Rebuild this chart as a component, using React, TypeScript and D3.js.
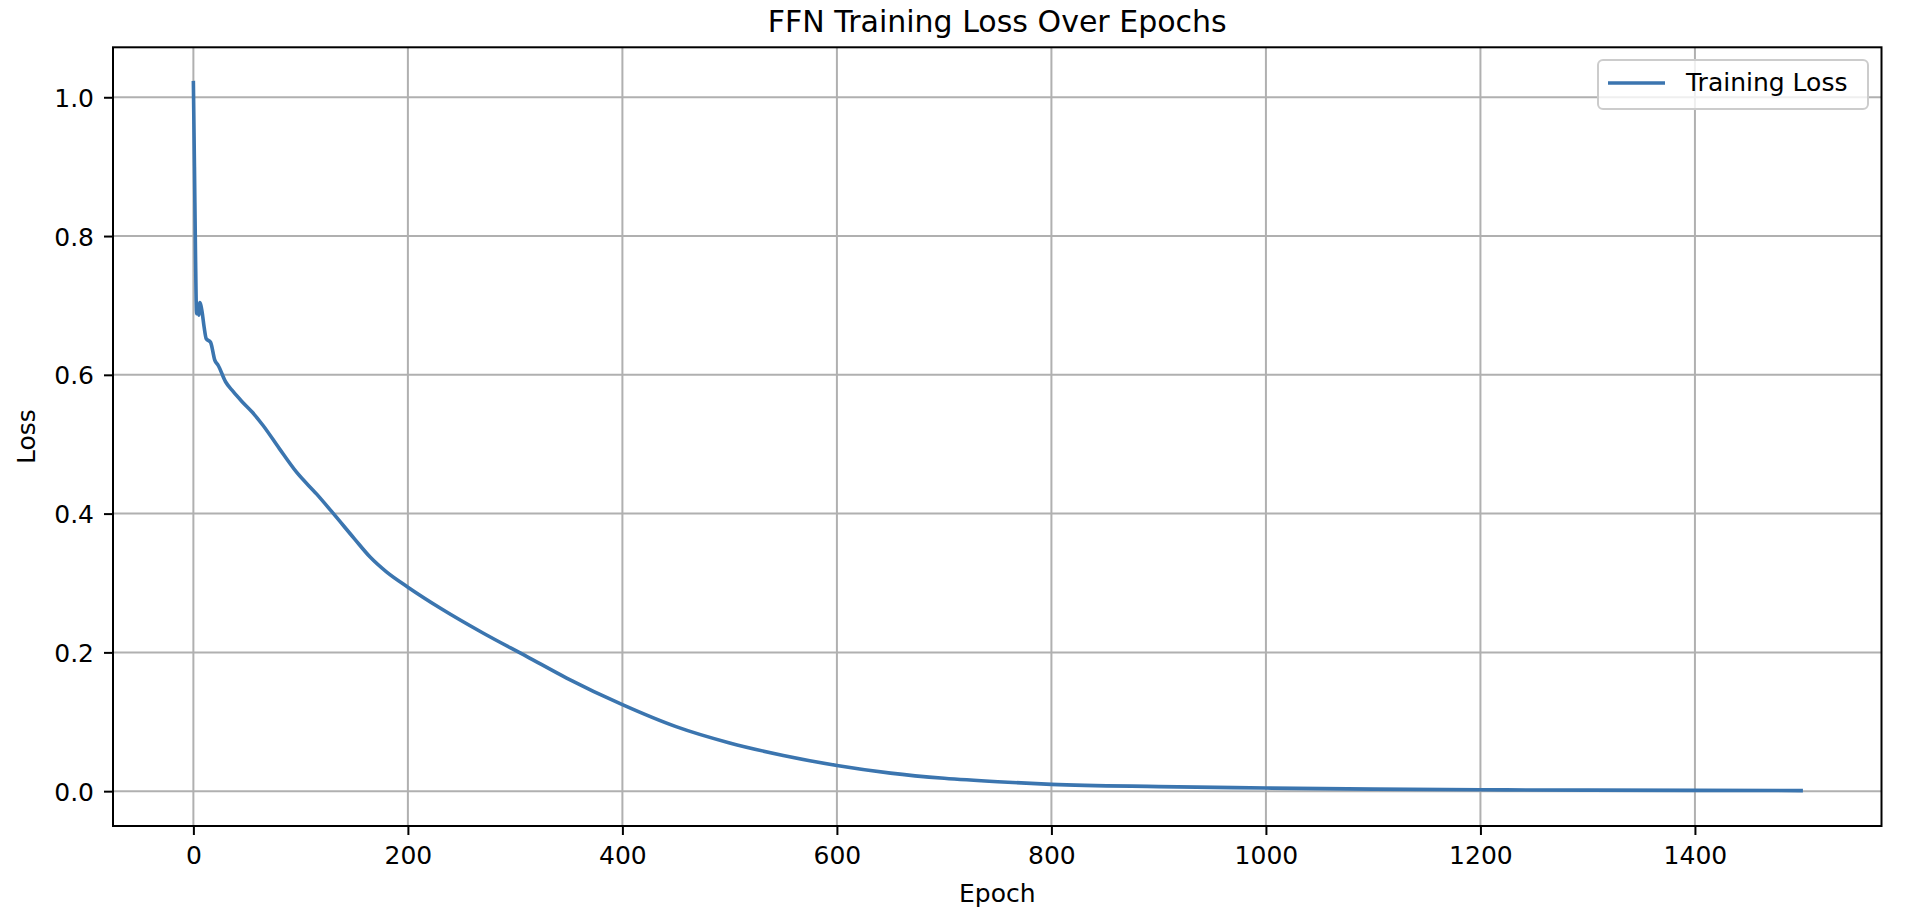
import { useEffect, useRef } from "react";
import * as d3 from "d3";

const EPOCHS = [0, 1, 2, 3, 4, 5, 6, 7, 8, 10, 12, 16, 20, 23, 30, 37, 45, 55, 65, 80, 96, 115, 130, 150, 165, 180, 200, 230, 270, 311, 348, 400, 450, 500, 550, 600, 650, 700, 750, 800, 900, 1000, 1100, 1200, 1300, 1400, 1499];
const LOSS = [1.021, 0.9, 0.77, 0.688, 0.7, 0.686, 0.704, 0.7, 0.692, 0.669, 0.652, 0.647, 0.621, 0.614, 0.59, 0.576, 0.562, 0.546, 0.527, 0.494, 0.46, 0.428, 0.401, 0.364, 0.337, 0.316, 0.294, 0.264, 0.228, 0.194, 0.163, 0.1247, 0.093, 0.0695, 0.0515, 0.037, 0.026, 0.0185, 0.0135, 0.0098, 0.0066, 0.0045, 0.003, 0.002, 0.0015, 0.0011, 0.0008];
const X_TICKS = [0, 200, 400, 600, 800, 1000, 1200, 1400];
const Y_TICKS = [0, 0.2, 0.4, 0.6, 0.8, 1.0];

const TITLE = "FFN Training Loss Over Epochs";
const SERIES_NAME = "Training Loss";
const LINE_COLOR = "#3b75af";
const FONT = "DejaVu Sans, sans-serif";

export default function App() {
  const svgRef = useRef<SVGSVGElement>(null);

  useEffect(() => {
    const W = 1906, H = 916;
    const mg = { l: 113, r: 1881.5, t: 47.3, b: 826 };

    const svg = d3.select(svgRef.current).attr("width", W).attr("height", H);
    svg.selectAll("*").remove();

    // matplotlib-style 5% margins around the data extent
    const pad = (ext: [number, number]) => { const d = (ext[1] - ext[0]) * 0.05; return [ext[0] - d, ext[1] + d]; };
    const xS = d3.scaleLinear().domain(pad(d3.extent(EPOCHS) as [number, number])).range([mg.l, mg.r]);
    const yS = d3.scaleLinear().domain(pad(d3.extent(LOSS) as [number, number])).range([mg.b, mg.t]);

    svg.append("rect").attr("width", W).attr("height", H).attr("fill", "white");

    // grid
    X_TICKS.forEach(v => svg.append("line").attr("x1", xS(v)).attr("x2", xS(v)).attr("y1", mg.t).attr("y2", mg.b).attr("stroke", "#b0b0b0").attr("stroke-width", 2));
    Y_TICKS.forEach(v => svg.append("line").attr("x1", mg.l).attr("x2", mg.r).attr("y1", yS(v)).attr("y2", yS(v)).attr("stroke", "#b0b0b0").attr("stroke-width", 2));

    // line
    const line = d3.line<number>().x((_, i) => xS(EPOCHS[i])).y(d => yS(d)).curve(d3.curveMonotoneX);
    svg.append("path").attr("d", line(LOSS)).attr("fill", "none").attr("stroke", LINE_COLOR).attr("stroke-width", 3.6).attr("stroke-linejoin", "round").attr("stroke-linecap", "square");

    // axes
    svg.append("g").attr("transform", `translate(0,${mg.b})`)
      .call(d3.axisBottom(xS).tickValues(X_TICKS).tickSize(9).tickPadding(11).tickFormat(d3.format("d")))
      .call(g => { g.select(".domain").remove(); g.selectAll("line").attr("stroke", "#000").attr("stroke-width", 2); g.selectAll("text").attr("fill", "#000").attr("font-size", 25).attr("font-family", FONT); });
    svg.append("g").attr("transform", `translate(${mg.l},0)`)
      .call(d3.axisLeft(yS).tickValues(Y_TICKS).tickSize(9).tickPadding(10).tickFormat(d3.format(".1f")))
      .call(g => { g.select(".domain").remove(); g.selectAll("line").attr("stroke", "#000").attr("stroke-width", 2); g.selectAll("text").attr("fill", "#000").attr("font-size", 25).attr("font-family", FONT).attr("dy", "0.36em"); });

    // spines
    svg.append("rect").attr("x", mg.l).attr("y", mg.t).attr("width", mg.r - mg.l).attr("height", mg.b - mg.t)
      .attr("fill", "none").attr("stroke", "#000").attr("stroke-width", 2);

    // labels
    const cx = (mg.l + mg.r) / 2, cy = (mg.t + mg.b) / 2;
    svg.append("text").attr("x", cx).attr("y", 32).attr("text-anchor", "middle").attr("font-size", 30).attr("font-family", FONT).attr("fill", "#000").text(TITLE);
    svg.append("text").attr("x", cx).attr("y", 902).attr("text-anchor", "middle").attr("font-size", 25).attr("font-family", FONT).attr("fill", "#000").text("Epoch");
    svg.append("text").attr("transform", `translate(35,${cy}) rotate(-90)`).attr("text-anchor", "middle").attr("font-size", 25).attr("font-family", FONT).attr("fill", "#000").text("Loss");

    // legend
    const lg = svg.append("g");
    lg.append("rect").attr("x", 1598).attr("y", 60).attr("width", 270).attr("height", 49).attr("rx", 5)
      .attr("fill", "white").attr("fill-opacity", 0.8).attr("stroke", "#cccccc").attr("stroke-width", 2);
    lg.append("line").attr("x1", 1608).attr("x2", 1665).attr("y1", 83).attr("y2", 83).attr("stroke", LINE_COLOR).attr("stroke-width", 3.6);
    lg.append("text").attr("x", 1686).attr("y", 91).attr("font-size", 25).attr("font-family", FONT).attr("fill", "#000").text(SERIES_NAME);
  }, []);

  return (
    <div style={{ position: "absolute", left: 0, top: 0, width: 1906, height: 916, background: "white" }}>
      <svg ref={svgRef} style={{ display: "block" }} />
    </div>
  );
}
